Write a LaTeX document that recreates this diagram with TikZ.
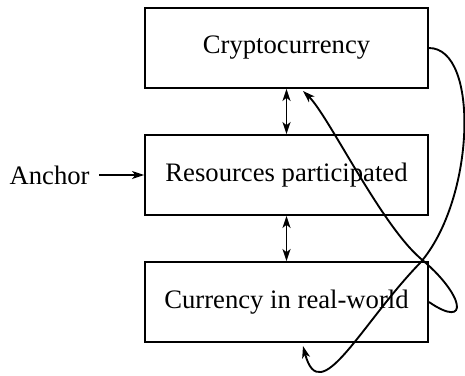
\documentclass[tikz,border=0pt]{standalone}
\usepackage{fontspec}
\setmainfont{Liberation Serif}
\usetikzlibrary{arrows.meta}
\begin{document}
\begin{tikzpicture}[x=0.375pt,y=-0.375pt,
  box/.style={draw,line width=0.7pt,minimum width=283*0.375pt,minimum height=80*0.375pt,inner sep=0pt,font=\fontsize{10}{12}\selectfont},
  lbl/.style={font=\fontsize{10}{12}\selectfont},
  conn/.style={line width=0.7pt,-{Stealth[length=4.5pt,width=3pt,inset=1.2pt]}},
  dconn/.style={line width=0.7pt,{Stealth[length=4.5pt,width=3pt,inset=1.2pt]}-{Stealth[length=4.5pt,width=3pt,inset=1.2pt]}}]
\useasboundingbox (0,0) rectangle (465,375);
\node[box] (crypto) at (286.5,48) {Cryptocurrency};
\node[box] (res) at (286.5,175) {Resources participated};
\node[box] (cur) at (286.5,302) {Currency in real-world};
\node[lbl,anchor=east] (anchor) at (99,175) {Anchor};
\coordinate (e1) at (303,346);
\coordinate (e2) at (303,91);
\coordinate (x1) at (420,263);
\coordinate (x2) at (420,258);
\draw[conn] (anchor.east) -- (res.west);
\draw[dconn] (crypto.south) -- (res.north);
\draw[dconn] (res.south) -- (cur.north);
\draw[conn] (crypto.east) .. controls (480,48) and (475,200) .. (x1)
  .. controls (360,325) and (320,410) .. (e1);
\draw[conn] (cur.east) .. controls (470,330) and (465,295) .. (x2)
  .. controls (380,223) and (328,115) .. (e2);
\end{tikzpicture}
\end{document}
